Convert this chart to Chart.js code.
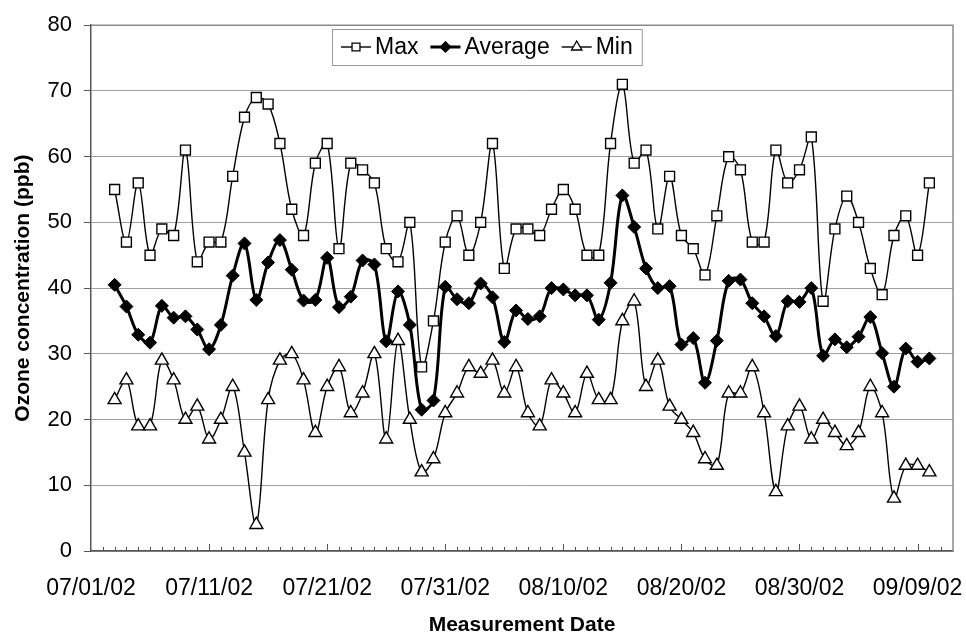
<!DOCTYPE html>
<html>
<head>
<meta charset="utf-8">
<script src="https://cdn.jsdelivr.net/npm/chart.js@4.4.1/dist/chart.umd.min.js"></script>
<style>
  html, body { margin: 0; padding: 0; background: #ffffff; }
  canvas { display: block; }
</style>
</head>
<body>
<canvas id="c" width="966" height="636"></canvas>
<script>
// ---------- data ----------
const dates = [
  "07/03/02","07/04/02","07/05/02","07/06/02","07/07/02","07/08/02","07/09/02","07/10/02","07/11/02","07/12/02",
  "07/13/02","07/14/02","07/15/02","07/16/02","07/17/02","07/18/02","07/19/02","07/20/02","07/21/02","07/22/02",
  "07/23/02","07/24/02","07/25/02","07/26/02","07/27/02","07/28/02","07/29/02","07/30/02","07/31/02","08/01/02",
  "08/02/02","08/03/02","08/04/02","08/05/02","08/06/02","08/07/02","08/08/02","08/09/02","08/10/02","08/11/02",
  "08/12/02","08/13/02","08/14/02","08/15/02","08/16/02","08/17/02","08/18/02","08/19/02","08/20/02","08/21/02",
  "08/22/02","08/23/02","08/24/02","08/25/02","08/26/02","08/27/02","08/28/02","08/29/02","08/30/02","08/31/02",
  "09/01/02","09/02/02","09/03/02","09/04/02","09/05/02","09/06/02","09/07/02","09/08/02","09/09/02","09/10/02"
];
const maxVals = [
  55,47,56,45,49,48,61,44,47,47,
  57,66,69,68,62,52,48,59,62,46,
  59,58,56,46,44,50,28,35,47,51,
  45,50,62,43,49,49,48,52,55,52,
  45,45,62,71,59,61,49,57,48,46,
  42,51,60,58,47,47,61,56,58,63,
  38,49,54,50,43,39,48,51,45,56
];
const avgVals = [
  40.5,37.2,32.9,31.7,37.3,35.5,35.7,33.7,30.7,34.4,
  41.9,46.8,38.2,43.9,47.3,42.8,38.1,38.2,44.6,37.1,
  38.7,44.2,43.6,31.9,39.5,34.4,21.5,22.9,40.2,38.3,
  37.7,40.7,38.6,31.8,36.6,35.3,35.7,40.0,39.8,38.9,
  38.9,35.2,40.8,54.1,49.3,43.0,40.0,40.3,31.4,32.4,
  25.6,32.0,41.1,41.3,37.7,35.7,32.7,38.0,37.9,40.0,
  29.7,32.2,31.0,32.6,35.6,30.1,25.0,30.8,28.8,29.3
];
const minVals = [
  23,26,19,19,29,26,20,22,17,20,
  25,15,4,23,29,30,26,18,25,28,
  21,24,30,17,32,20,12,14,21,24,
  28,27,29,24,28,21,19,26,24,21,
  27,23,23,35,38,25,29,22,20,18,
  14,13,24,24,28,21,9,19,22,17,
  20,18,16,18,25,21,8,13,13,12
];
const xTickLabels = ["07/01/02","07/11/02","07/21/02","07/31/02","08/10/02","08/20/02","08/30/02","09/09/02"];
const axisStart = "07/01/02";
const axisEnd = "09/12/02";
const yTicks = [0,10,20,30,40,50,60,70,80];

// ---------- helpers ----------
function dayNum(s) {
  const [m, d, y] = s.split("/").map(Number);
  return Math.round(Date.UTC(2000 + y, m - 1, d) / 86400000);
}
const base = dayNum(axisStart);
const dayOf = s => dayNum(s) - base;
const tickDays = xTickLabels.map(dayOf);
const toPts = vals => vals.map((v, i) => ({ x: dayOf(dates[i]), y: v }));

const FONT = '"Liberation Sans", Arial, Helvetica, sans-serif';

// plot frame (top/right border) and inside day tick marks on the x axis
const framePlugin = {
  id: 'frame',
  beforeDatasetsDraw(chart) {
    const { ctx, chartArea: a, scales: { x } } = chart;
    ctx.save();
    ctx.strokeStyle = '#8a8a8a';
    ctx.lineWidth = 1.5;
    ctx.beginPath();
    ctx.moveTo(a.left, a.top);
    ctx.lineTo(a.right, a.top);
    ctx.lineTo(a.right, a.bottom);
    ctx.stroke();
    ctx.strokeStyle = '#555';
    ctx.lineWidth = 1;
    const major = new Set(tickDays);
    for (let d = Math.ceil(x.min) + 1; d < x.max; d++) {
      const px = Math.round(x.getPixelForValue(d)) + 0.5;
      const len = major.has(d) ? 7 : 4;
      ctx.beginPath();
      ctx.moveTo(px, a.bottom);
      ctx.lineTo(px, a.bottom - len);
      ctx.stroke();
    }
    ctx.restore();
  }
};

function marker(ctx, style, x, y, r, fill) {
  ctx.beginPath();
  if (style === 'rect') {
    const s = r * Math.SQRT1_2;
    ctx.rect(x - s, y - s, 2 * s, 2 * s);
  } else if (style === 'rectRot') {
    ctx.moveTo(x, y - r); ctx.lineTo(x + r, y); ctx.lineTo(x, y + r); ctx.lineTo(x - r, y); ctx.closePath();
  } else {
    const w = r * Math.sqrt(3);
    ctx.moveTo(x, y - r); ctx.lineTo(x + w / 2, y + r / 2); ctx.lineTo(x - w / 2, y + r / 2); ctx.closePath();
  }
  ctx.fillStyle = fill;
  ctx.fill();
  ctx.strokeStyle = '#000';
  ctx.lineWidth = 1.3;
  ctx.stroke();
}

// boxed legend inside the plot area
const legendPlugin = {
  id: 'boxLegend',
  afterDraw(chart) {
    const ctx = chart.ctx;
    const dsets = chart.data.datasets;
    ctx.save();
    ctx.font = '23px ' + FONT;
    const seg = 30, gap = 4, itemGap = 12, padX = 9;
    let total = padX * 2;
    dsets.forEach((ds, i) => { total += seg + gap + ctx.measureText(ds.label).width + (i ? itemGap : 0); });
    const left = 332, top = 29, h = 36;
    ctx.fillStyle = '#fff';
    ctx.fillRect(left, top, total, h);
    ctx.strokeStyle = '#999';
    ctx.lineWidth = 1;
    ctx.strokeRect(left + 0.5, top + 0.5, total, h);
    let x = left + padX;
    const cy = top + h / 2;
    dsets.forEach((ds, i) => {
      if (i) x += itemGap;
      ctx.strokeStyle = '#000';
      ctx.lineWidth = ds.borderWidth;
      ctx.beginPath(); ctx.moveTo(x, cy); ctx.lineTo(x + seg, cy); ctx.stroke();
      marker(ctx, ds.pointStyle, x + seg / 2, cy, ds.pointRadius * 0.8, ds.pointBackgroundColor);
      x += seg + gap;
      ctx.fillStyle = '#000';
      ctx.textBaseline = 'middle';
      ctx.textAlign = 'left';
      ctx.fillText(ds.label, x, cy + 1);
      x += ctx.measureText(ds.label).width;
    });
    ctx.restore();
  }
};

new Chart(document.getElementById('c'), {
  type: 'line',
  data: {
    datasets: [
      { label: 'Max', data: toPts(maxVals), borderColor: '#000', borderWidth: 1.4,
        pointStyle: 'rect', pointRadius: 7, pointBackgroundColor: '#fff', pointBorderColor: '#000',
        pointBorderWidth: 1.4, tension: 0.35 },
      { label: 'Average', data: toPts(avgVals), borderColor: '#000', borderWidth: 3,
        pointStyle: 'rectRot', pointRadius: 6.5, pointBackgroundColor: '#000', pointBorderColor: '#000',
        pointBorderWidth: 1, tension: 0.35 },
      { label: 'Min', data: toPts(minVals), borderColor: '#000', borderWidth: 1.4,
        pointStyle: 'triangle', pointRadius: 7.5, pointBackgroundColor: '#fff', pointBorderColor: '#000',
        pointBorderWidth: 1.4, tension: 0.35 }
    ]
  },
  options: {
    responsive: false,
    devicePixelRatio: 1,
    animation: false,
    layout: { padding: { top: 22, right: 13, left: 0, bottom: 0 } },
    plugins: { legend: { display: false }, tooltip: { enabled: false } },
    scales: {
      x: {
        type: 'linear',
        min: dayOf(axisStart),
        max: dayOf(axisEnd),
        afterBuildTicks: s => { s.ticks = tickDays.map(v => ({ value: v })); },
        afterFit: s => { s.height = 85; s.paddingLeft = 0; s.paddingRight = 0; },
        ticks: {
          autoSkip: false, maxRotation: 0, minRotation: 0,
          color: '#000', font: { family: FONT, size: 23 }, padding: 24,
          callback: v => { const i = tickDays.indexOf(v); return i >= 0 ? xTickLabels[i] : ''; }
        },
        grid: { display: false, drawTicks: false },
        border: { display: true, color: '#555', width: 1.5 },
        title: { display: true, text: 'Measurement Date', color: '#000',
                 font: { family: FONT, size: 21, weight: 'bold', lineHeight: 1 },
                 padding: { top: 0, bottom: 0 } }
      },
      y: {
        min: 0, max: 80,
        afterBuildTicks: s => { s.ticks = yTicks.map(v => ({ value: v })); },
        afterFit: s => { s.width = 91; },
        ticks: { color: '#000', font: { family: FONT, size: 22 }, padding: 12 },
        grid: { color: '#a0a0a0', lineWidth: 1, drawTicks: true, tickLength: 7, tickColor: '#555' },
        border: { display: true, color: '#555', width: 1.5 },
        title: { display: true, text: 'Ozone concentration (ppb)', color: '#000',
                 font: { family: FONT, size: 21, weight: 'bold', lineHeight: 1 },
                 padding: { top: 13, bottom: 0 } }
      }
    }
  },
  plugins: [framePlugin, legendPlugin]
});
</script>
</body>
</html>
